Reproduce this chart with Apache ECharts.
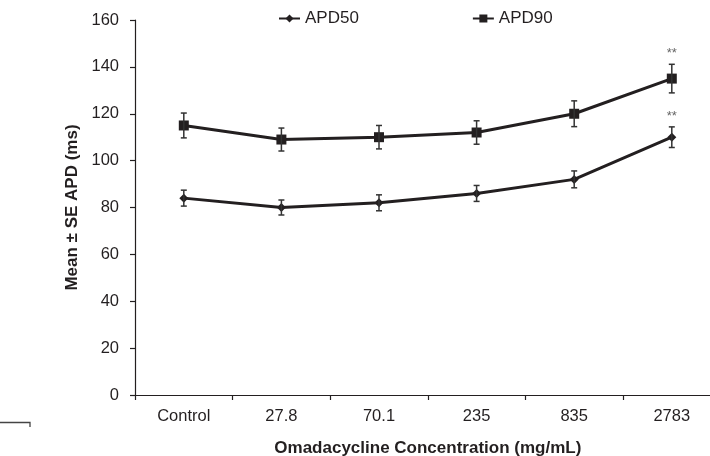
<!DOCTYPE html>
<html><head><meta charset="utf-8">
<script src="https://cdn.jsdelivr.net/npm/echarts@6/dist/echarts.min.js"></script>
<style>html,body{margin:0;padding:0;background:#fff}#c{width:710px;height:456px}</style>
</head><body><div id="c"></div>
<script>
var categories = ["Control", "27.8", "70.1", "235", "835", "2783"];
var apd50 = [84, 80, 82, 86, 92, 110];
var apd50Err = [3.4, 3.2, 3.4, 3.4, 3.6, 4.4];
var apd90 = [115, 109, 110, 112, 120, 135];
var apd90Err = [5.3, 4.9, 5.0, 5.0, 5.5, 6.1];
var apd50Sig = ["", "", "", "", "", "**"];
var apd90Sig = ["", "", "", "", "", "**"];
var yTicks = [0, 20, 40, 60, 80, 100, 120, 140, 160];

var FONT = "Liberation Sans, Arial, sans-serif";
var LINE = "#231f20";

function errData(vals, errs, sig) {
  return vals.map(function (v, i) { return [i, v - errs[i], v + errs[i], sig[i]]; });
}
function renderErr(params, api) {
  var x = api.value(0);
  var lo = api.coord([x, api.value(1)]);
  var hi = api.coord([x, api.value(2)]);
  var cap = 3;
  var st = { stroke: "#333", lineWidth: 1.5 };
  var children = [
    { type: "line", shape: { x1: lo[0], y1: lo[1], x2: hi[0], y2: hi[1] }, style: st },
    { type: "line", shape: { x1: lo[0] - cap, y1: lo[1], x2: lo[0] + cap, y2: lo[1] }, style: st },
    { type: "line", shape: { x1: hi[0] - cap, y1: hi[1], x2: hi[0] + cap, y2: hi[1] }, style: st }
  ];
  var s = api.value(3);
  if (s) {
    children.push({ type: "text", style: { text: String(s), x: hi[0], y: hi[1] - 4, align: "center", verticalAlign: "bottom", fill: "#666", font: "13px " + FONT } });
  }
  return { type: "group", children: children };
}

var chart = echarts.init(document.getElementById("c"), null, { renderer: "canvas" });
chart.setOption({
  animation: false,
  backgroundColor: "#fff",
  textStyle: { fontFamily: FONT },
  legend: {
    left: 278, top: 10, padding: 0, itemGap: 113, itemWidth: 21, itemHeight: 10,
    data: ["APD50", "APD90"],
    textStyle: { fontSize: 17, color: "#231f20", fontFamily: FONT }
  },
  grid: { left: 135, top: 20, width: 585.6, height: 375, containLabel: false, outerBoundsMode: "none" },
  xAxis: {
    type: "category", data: categories, boundaryGap: true,
    name: "Omadacycline Concentration (mg/mL)", nameLocation: "middle", nameGap: 45,
    nameTextStyle: { fontSize: 17, fontWeight: "bold", color: "#231f20", fontFamily: FONT },
    axisLine: { lineStyle: { color: "#231f20", width: 1.2 } },
    axisTick: { show: true, length: 5, alignWithLabel: false, lineStyle: { color: "#231f20", width: 1.2 } },
    axisLabel: { fontSize: 16.5, color: "#231f20", margin: 13, fontFamily: FONT }
  },
  yAxis: {
    type: "value", min: 0, max: 160, interval: 20,
    name: "Mean ± SE APD (ms)", nameLocation: "middle", nameGap: 53,
    nameTextStyle: { fontSize: 17, fontWeight: "bold", color: "#231f20", fontFamily: FONT },
    splitLine: { show: false },
    axisLine: { show: true, lineStyle: { color: "#231f20", width: 1.2 } },
    axisTick: { show: true, length: 5, lineStyle: { color: "#231f20", width: 1.2 } },
    axisLabel: { fontSize: 16.5, color: "#231f20", margin: 16, fontFamily: FONT,
      formatter: function (v) { return yTicks.indexOf(v) >= 0 ? String(v) : ""; } }
  },
  series: [
    { name: "APD50", type: "line", data: apd50, symbol: "diamond", symbolSize: 9,
      lineStyle: { color: LINE, width: 3 }, itemStyle: { color: LINE }, z: 3 },
    { name: "APD90", type: "line", data: apd90, symbol: "rect", symbolSize: 10,
      lineStyle: { color: LINE, width: 3 }, itemStyle: { color: LINE }, z: 3 },
    { type: "custom", renderItem: renderErr, data: errData(apd50, apd50Err, apd50Sig), z: 4, silent: true },
    { type: "custom", renderItem: renderErr, data: errData(apd90, apd90Err, apd90Sig), z: 4, silent: true }
  ],
  graphic: [
    { type: "polyline", shape: { points: [[0, 422.5], [30, 422.5], [30, 427]] }, style: { stroke: "#444", lineWidth: 1.3, fill: null } }
  ]
});
</script></body></html>
